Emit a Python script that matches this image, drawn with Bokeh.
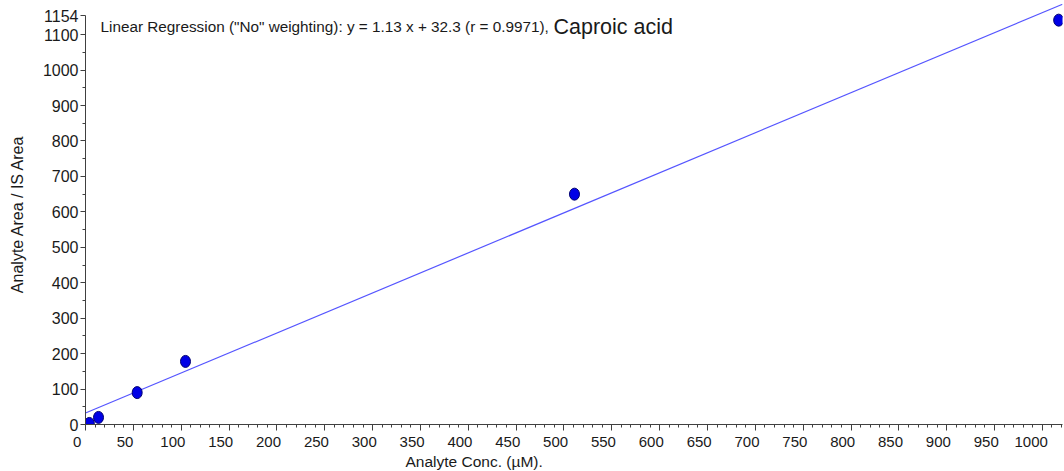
from bokeh.plotting import figure
from bokeh.models import Range1d, FixedTicker, Label, Title, ColumnDataSource
from bokeh.embed import file_html
from bokeh.resources import INLINE

# Calibration points (concentration in µM vs. area ratio)
conc = [4, 13.6, 54, 104.5, 511, 1017]
area_ratio = [3, 20, 90, 178, 650, 1141]

# Fitted regression
slope = 1.13
intercept = 32.3
r_value = 0.9971
compound = "Caproic acid"

# Axis ticks
x_ticks = list(range(0, 1001, 50))
x_minor = list(range(0, 1021, 10))
y_ticks = list(range(0, 1101, 100)) + [1154]
y_minor = list(range(50, 1101, 50))

X_MAX = 1021
Y_MAX = 1188

FONT = "Liberation Sans"
TEXT = "#1a1a1a"
AXIS = "#404040"

p = figure(width=1064, height=471,
           x_range=Range1d(0, X_MAX), y_range=Range1d(0, Y_MAX),
           output_backend="svg", toolbar_location=None,
           min_border_left=85, min_border_right=2,
           min_border_top=3, min_border_bottom=47)
p.grid.visible = False
p.outline_line_color = None
p.background_fill_color = "white"
p.border_fill_color = "white"

# x axis; labels padded so they sit a little left of their ticks
xa = p.xaxis[0]
xa.ticker = FixedTicker(ticks=x_ticks, minor_ticks=x_minor)
xa.bounds = (0, X_MAX)
xa.major_label_overrides = {v: str(v) + "\u00a0" * 4 for v in x_ticks}
xa.major_label_text_font = FONT
xa.major_label_text_font_size = "15px"
xa.major_label_text_color = TEXT
xa.major_label_standoff = 2
xa.axis_line_color = AXIS
xa.major_tick_line_color = AXIS
xa.minor_tick_line_color = AXIS
xa.major_tick_in = 0
xa.major_tick_out = 6
xa.minor_tick_in = 0
xa.minor_tick_out = 3

# x axis title, left-aligned with an offset
p.add_layout(Title(text="Analyte Conc. (µM).", align="left", offset=405 - 85,
                   standoff=-3, text_font=FONT, text_font_size="15.5px",
                   text_font_style="normal", text_color=TEXT), "below")

# y axis
ya = p.yaxis[0]
ya.ticker = FixedTicker(ticks=y_ticks, minor_ticks=y_minor)
ya.bounds = (0, 1154)
ya.axis_line_color = AXIS
ya.major_tick_line_color = AXIS
ya.minor_tick_line_color = AXIS
ya.major_tick_in = 0
ya.major_tick_out = 5
ya.minor_tick_in = 0
ya.minor_tick_out = 3
ya.major_label_text_font = FONT
ya.major_label_text_font_size = "16px"
ya.major_label_text_color = TEXT
ya.major_label_standoff = 2
ya.axis_label = "Analyte Area / IS Area"
ya.axis_label_text_font = FONT
ya.axis_label_text_font_size = "16px"
ya.axis_label_text_font_style = "normal"
ya.axis_label_text_color = TEXT
ya.axis_label_standoff = 14

# regression line
line_x = [0, X_MAX]
line_y = [slope * v + intercept for v in line_x]
p.line(line_x, line_y, line_color="#5555ff", line_width=1.2)

# calibration points
src = ColumnDataSource(dict(x=conc, y=area_ratio))
p.ellipse(x="x", y="y", width=10, height=12,
          width_units="screen", height_units="screen",
          fill_color="#0000e6", line_color="#000070", line_width=1, source=src)

# regression summary
p.add_layout(Label(x=15, y=398, x_units="screen", y_units="screen",
                   text=f'Linear Regression ("No" weighting): y = {slope} x + {intercept} (r = {r_value}),',
                   text_font=FONT, text_font_size="15.3px", text_color=TEXT,
                   text_baseline="alphabetic"))
p.add_layout(Label(x=468, y=398, x_units="screen", y_units="screen",
                   text=compound, text_font=FONT, text_font_size="21.5px",
                   text_color=TEXT, text_baseline="alphabetic"))

open("out.html", "w").write(file_html(p, INLINE))
